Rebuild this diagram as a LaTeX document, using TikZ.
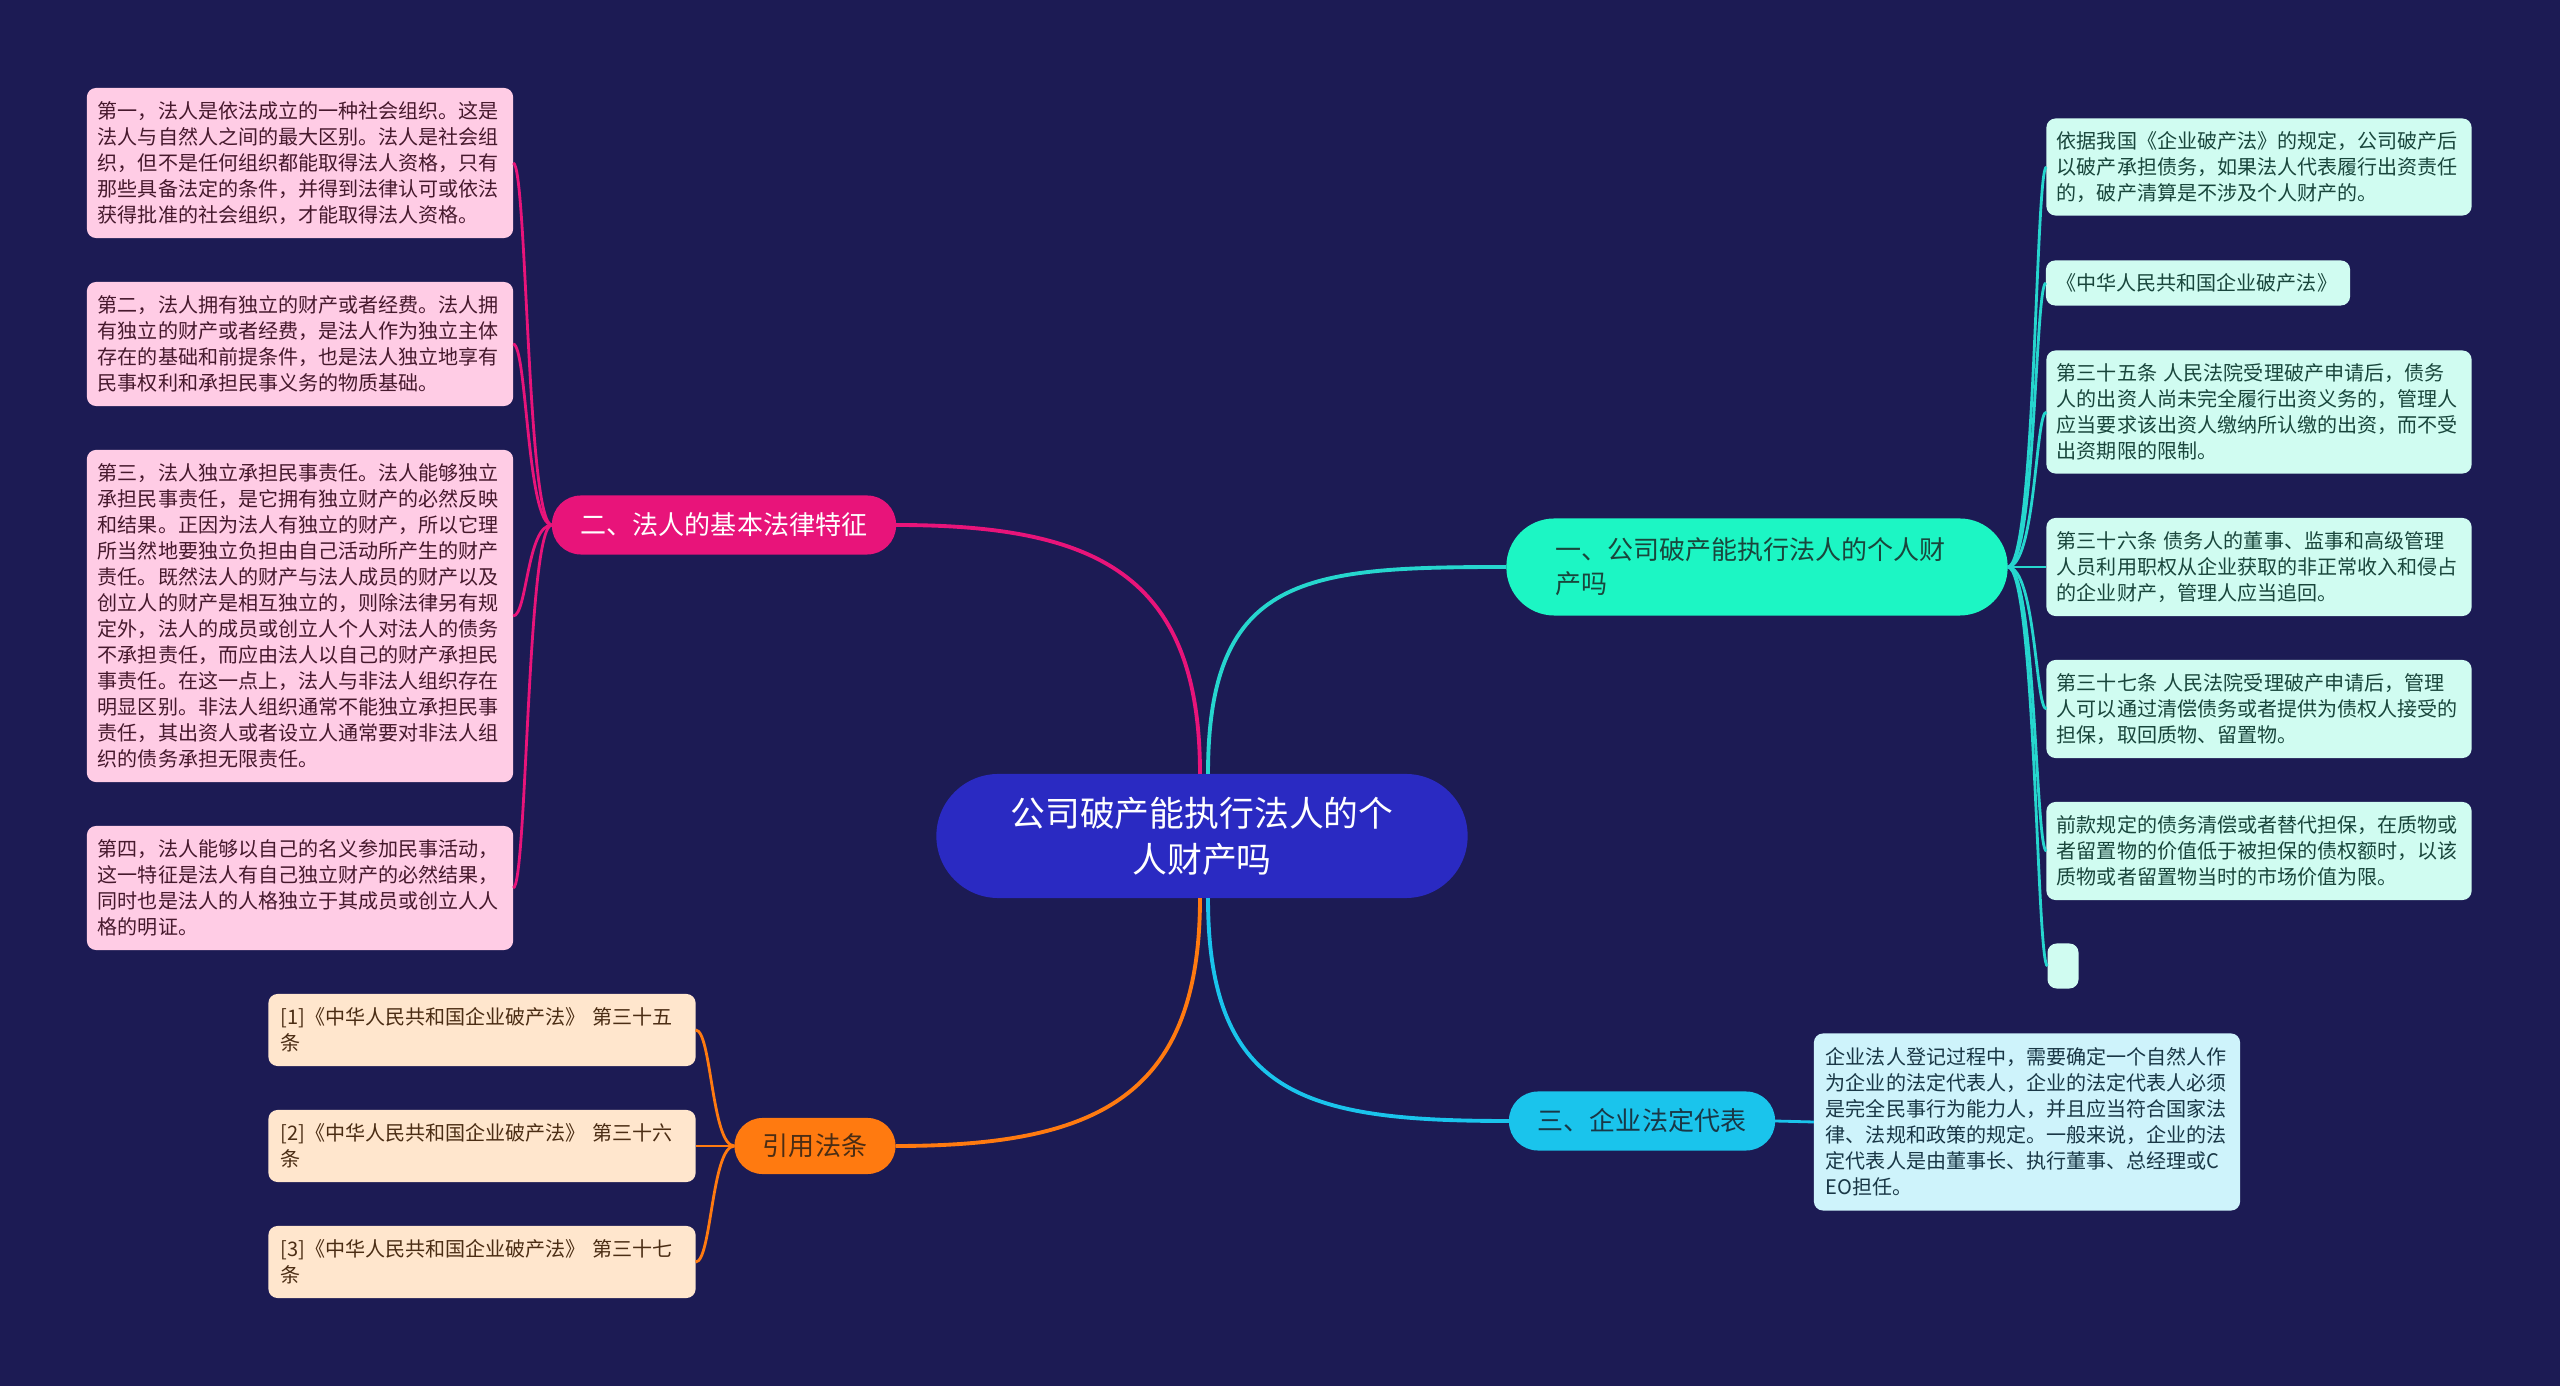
\documentclass[tikz,border=0pt]{standalone}
\usepackage{fontspec}
\setmainfont{Noto Sans CJK SC}
\usepackage{tikz}

\definecolor{bgnavy}{RGB}{28,27,84}
\definecolor{rootblue}{RGB}{42,42,194}
\definecolor{aqua}{RGB}{28,246,196}
\definecolor{aqualine}{RGB}{38,214,206}
\definecolor{magent}{RGB}{232,20,122}
\definecolor{skyblue}{RGB}{26,196,236}
\definecolor{orng}{RGB}{255,122,16}
\definecolor{pinkfill}{RGB}{255,204,229}
\definecolor{peachfill}{RGB}{255,230,205}
\definecolor{mintfill}{RGB}{208,252,241}
\definecolor{icefill}{RGB}{206,243,251}
\definecolor{pinktext}{RGB}{70,25,45}
\definecolor{peachtext}{RGB}{75,45,20}
\definecolor{minttext}{RGB}{25,70,60}
\definecolor{icetext}{RGB}{25,55,70}

\begin{document}
\begin{tikzpicture}[x=0.01cm,y=-0.01cm,
  every node/.style={inner sep=0pt,outer sep=0pt},
  leafbox/.style={rounded corners=2.6pt,inner xsep=0.11cm,align=left,
    text width=4.04cm,font=\fontsize{5.7}{7.4}\selectfont},
  pinkbox/.style={leafbox,fill=pinkfill,text=pinktext},
  peachbox/.style={leafbox,fill=peachfill,text=peachtext,text width=4.03cm,inner xsep=0.12cm},
  mintbox/.style={leafbox,fill=mintfill,text=minttext,inner xsep=0.105cm},
  topic/.style={font=\fontsize{7.4}{9.7}\selectfont,minimum height=0.59cm,rounded corners=0.29cm},
  wire/.style={line width=1.1pt},
  twig/.style={line width=0.8pt}]
\fill[bgnavy] (0,0) rectangle (2560,1386);

% centre
\node[fill=rootblue,text=white,align=center,minimum width=5.31cm,minimum height=1.24cm,
  rounded corners=0.62cm,font=\fontsize{9.9}{13}\selectfont] (root) at (1202,836)
  {公司破产能执行法人的个\\人财产吗};

% main topics
\node[topic,fill=aqua,text=minttext,minimum height=0.97cm,rounded corners=0.48cm,
  align=left,text width=4.03cm,inner xsep=0.49cm] (b1) at (1757,567)
  {一、公司破产能执行法人的个人财\\产吗};
\node[topic,fill=magent,text=white,minimum width=3.44cm] (b2) at (724,525) {二、法人的基本法律特征};
\node[topic,fill=skyblue,text=icetext,minimum width=2.66cm] (b3) at (1642,1121) {三、企业法定代表};
\node[topic,fill=orng,text=peachtext,minimum width=1.61cm,minimum height=0.56cm,rounded corners=0.28cm]
  (b4) at (815,1146) {引用法条};

% left: features
\node[pinkbox,minimum height=1.5cm] (l1) at (300,163)
  {第一，法人是依法成立的一种社会组织。这是\\法人与自然人之间的最大区别。法人是社会组\\织，但不是任何组织都能取得法人资格，只有\\那些具备法定的条件，并得到法律认可或依法\\获得批准的社会组织，才能取得法人资格。};
\node[pinkbox,minimum height=1.24cm] (l2) at (300,344)
  {第二，法人拥有独立的财产或者经费。法人拥\\有独立的财产或者经费，是法人作为独立主体\\存在的基础和前提条件，也是法人独立地享有\\民事权利和承担民事义务的物质基础。};
\node[pinkbox,minimum height=3.32cm] (l3) at (300,616)
  {第三，法人独立承担民事责任。法人能够独立\\承担民事责任，是它拥有独立财产的必然反映\\和结果。正因为法人有独立的财产，所以它理\\所当然地要独立负担由自己活动所产生的财产\\责任。既然法人的财产与法人成员的财产以及\\创立人的财产是相互独立的，则除法律另有规\\定外，法人的成员或创立人个人对法人的债务\\不承担责任，而应由法人以自己的财产承担民\\事责任。在这一点上，法人与非法人组织存在\\明显区别。非法人组织通常不能独立承担民事\\责任，其出资人或者设立人通常要对非法人组\\织的债务承担无限责任。};
\node[pinkbox,minimum height=1.24cm] (l4) at (300,888)
  {第四，法人能够以自己的名义参加民事活动，\\这一特征是法人有自己独立财产的必然结果，\\同时也是法人的人格独立于其成员或创立人人\\格的明证。};

% left bottom: cited articles
\node[peachbox,minimum height=0.72cm] (c1) at (482,1030) {[1]《中华人民共和国企业破产法》~第三十五\\条};
\node[peachbox,minimum height=0.72cm] (c2) at (482,1146) {[2]《中华人民共和国企业破产法》~第三十六\\条};
\node[peachbox,minimum height=0.72cm] (c3) at (482,1262) {[3]《中华人民共和国企业破产法》~第三十七\\条};

% right: details
\node[mintbox,minimum height=0.97cm] (r1) at (2259,167)
  {依据我国《企业破产法》的规定，公司破产后\\以破产承担债务，如果法人代表履行出资责任\\的，破产清算是不涉及个人财产的。};
\node[mintbox,text width=2.83cm,minimum height=0.45cm] (r2) at (2198,283) {《中华人民共和国企业破产法》};
\node[mintbox,minimum height=1.23cm] (r3) at (2259,412)
  {第三十五条~人民法院受理破产申请后，债务\\人的出资人尚未完全履行出资义务的，管理人\\应当要求该出资人缴纳所认缴的出资，而不受\\出资期限的限制。};
\node[mintbox,minimum height=0.98cm] (r4) at (2259,567)
  {第三十六条~债务人的董事、监事和高级管理\\人员利用职权从企业获取的非正常收入和侵占\\的企业财产，管理人应当追回。};
\node[mintbox,minimum height=0.98cm] (r5) at (2259,709)
  {第三十七条~人民法院受理破产申请后，管理\\人可以通过清偿债务或者提供为债权人接受的\\担保，取回质物、留置物。};
\node[mintbox,minimum height=0.98cm] (r6) at (2259,851)
  {前款规定的债务清偿或者替代担保，在质物或\\者留置物的价值低于被担保的债权额时，以该\\质物或者留置物当时的市场价值为限。};
\node[fill=mintfill,rounded corners=2.6pt,minimum width=0.31cm,minimum height=0.45cm] (r7) at (2063,966) {};

% right bottom: representative
\node[leafbox,fill=icefill,text=icetext,inner xsep=0.12cm,text width=4.02cm,minimum height=1.77cm] (k1) at (2027,1122)
  {企业法人登记过程中，需要确定一个自然人作\\为企业的法定代表人，企业的法定代表人必须\\是完全民事行为能力人，并且应当符合国家法\\律、法规和政策的规定。一般来说，企业的法\\定代表人是由董事长、执行董事、总经理或C\\EO担任。};

% centre to topics
\draw[wire,magent] (root.north) ++(-2,0) .. controls +(0,-200) and +(200,0) .. (b2.east);
\draw[wire,aqualine] (root.north) ++(6,0) .. controls +(0,-200) and +(-200,0) .. (b1.west);
\draw[wire,orng] (root.south) ++(-2,0) .. controls +(0,200) and +(200,0) .. (b4.east);
\draw[wire,skyblue] (root.south) ++(6,0) .. controls +(0,200) and +(-200,0) .. (b3.west);

% topics to leaves
\foreach \n in {l1,l2,l3,l4}
  \draw[twig,magent] (b2.west) .. controls +(-25,0) and +(14,0) .. (\n.east);
\foreach \n in {c1,c2,c3}
  \draw[twig,orng] (b4.west) .. controls +(-23,0) and +(16,0) .. (\n.east);
\foreach \n in {r1,r2,r3,r4,r5,r6,r7}
  \draw[twig,aqualine] (b1.east) .. controls +(28,0) and +(-11,0) .. (\n.west);
\draw[twig,skyblue] (b3.east) -- (k1.west);
\end{tikzpicture}
\end{document}
